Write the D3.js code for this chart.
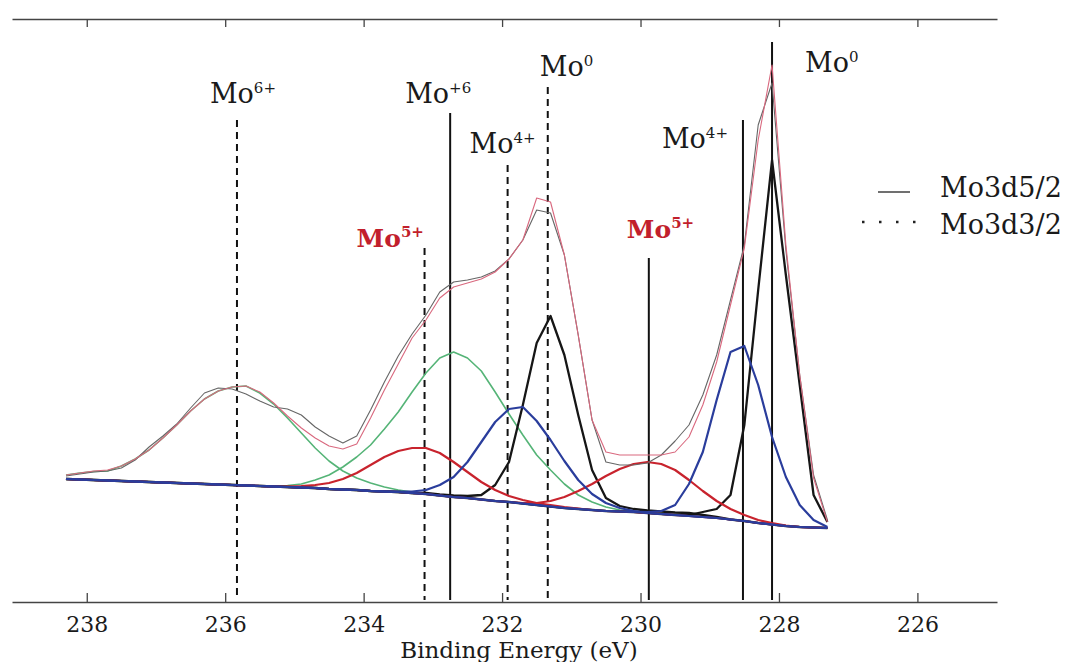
<!DOCTYPE html>
<html>
<head>
<meta charset="utf-8">
<script src="https://cdn.jsdelivr.net/npm/d3@7"></script>
<style>
  body { margin: 0; background: #fff; }
  svg text { font-family: "DejaVu Serif", serif; }
</style>
</head>
<body>
<svg id="chart" width="1071" height="662"></svg>
<script>
// binding energy grid (eV)
const energy = [238.3, 238.1, 237.9, 237.7, 237.5, 237.3, 237.1, 236.9, 236.7, 236.5,
  236.3, 236.1, 235.9, 235.7, 235.5, 235.3, 235.1, 234.9, 234.7, 234.5,
  234.3, 234.1, 233.9, 233.7, 233.5, 233.3, 233.1, 232.9, 232.7, 232.5,
  232.3, 232.1, 231.9, 231.7, 231.5, 231.3, 231.1, 230.9, 230.7, 230.5,
  230.3, 230.1, 229.9, 229.7, 229.5, 229.3, 229.1, 228.9, 228.7, 228.5,
  228.3, 228.1, 227.9, 227.7, 227.5, 227.3];

// measured spectrum and fitted envelope (a.u.)
const measured = [1.26, 1.28, 1.30, 1.31, 1.34, 1.42, 1.55, 1.66, 1.78, 1.94,
  2.09, 2.14, 2.13, 2.08, 2.01, 1.95, 1.93, 1.87, 1.75, 1.66,
  1.59, 1.66, 1.92, 2.20, 2.46, 2.68, 2.87, 3.10, 3.20, 3.22,
  3.25, 3.31, 3.43, 3.62, 3.92, 3.89, 3.47, 2.67, 1.82, 1.40,
  1.37, 1.37, 1.39, 1.47, 1.61, 1.77, 2.07, 2.47, 3.02, 3.57,
  4.77, 5.19, 3.52, 2.27, 1.27, 0.82];
const envelope = [1.27, 1.29, 1.31, 1.32, 1.36, 1.43, 1.52, 1.64, 1.77, 1.91,
  2.03, 2.11, 2.15, 2.16, 2.10, 1.99, 1.86, 1.74, 1.64, 1.56,
  1.53, 1.58, 1.84, 2.12, 2.38, 2.64, 2.82, 3.04, 3.15, 3.19,
  3.23, 3.30, 3.43, 3.62, 4.04, 4.00, 3.47, 2.67, 1.82, 1.50,
  1.47, 1.47, 1.47, 1.47, 1.50, 1.65, 1.97, 2.40, 2.97, 3.54,
  4.62, 5.37, 3.57, 2.27, 1.24, 0.80];

// background under the peaks
const background = [1.23, 1.225, 1.22, 1.215, 1.21, 1.205, 1.20, 1.195, 1.19, 1.185,
  1.18, 1.175, 1.17, 1.165, 1.16, 1.155, 1.15, 1.145, 1.14, 1.13,
  1.125, 1.12, 1.11, 1.105, 1.10, 1.09, 1.08, 1.065, 1.05, 1.04,
  1.025, 1.01, 1.00, 0.985, 0.97, 0.955, 0.94, 0.93, 0.92, 0.91,
  0.905, 0.90, 0.89, 0.88, 0.87, 0.86, 0.85, 0.84, 0.825, 0.81,
  0.79, 0.775, 0.76, 0.75, 0.745, 0.74];

// fitted components, height above background
const mo6_32 = [0.04, 0.065, 0.085, 0.095, 0.15, 0.225, 0.32, 0.445, 0.58, 0.725,
  0.85, 0.935, 0.98, 0.995, 0.93, 0.825, 0.69, 0.545, 0.40, 0.28,
  0.185, 0.12, 0.08, 0.045, 0.02, 0.01, 0.005, 0, 0, 0,
  0, 0, 0, 0, 0, 0, 0, 0, 0, 0, 0, 0, 0, 0, 0, 0, 0, 0, 0, 0, 0, 0, 0, 0, 0, 0];
const mo6_52 = [0, 0, 0, 0, 0, 0, 0, 0, 0, 0, 0, 0, 0, 0, 0,
  0.005, 0.015, 0.035, 0.08, 0.14, 0.225, 0.33, 0.46, 0.625, 0.80,
  1.01, 1.21, 1.375, 1.45, 1.40, 1.285, 1.09, 0.88, 0.685, 0.50,
  0.365, 0.24, 0.14, 0.08, 0.04, 0.015, 0.005, 0, 0, 0,
  0, 0, 0, 0, 0, 0, 0, 0, 0, 0, 0];
const mo5_32 = [0, 0, 0, 0, 0, 0, 0, 0, 0, 0, 0, 0, 0, 0, 0, 0,
  0.005, 0.015, 0.03, 0.06, 0.105, 0.17, 0.26, 0.345, 0.41, 0.45,
  0.46, 0.425, 0.35, 0.26, 0.175, 0.11, 0.06, 0.035, 0.02, 0.015,
  0.01, 0.005, 0, 0, 0, 0, 0, 0, 0, 0, 0, 0, 0, 0, 0, 0, 0, 0, 0, 0];
const mo5_52 = [0, 0, 0, 0, 0, 0, 0, 0, 0, 0, 0, 0, 0, 0, 0, 0, 0, 0, 0, 0,
  0, 0, 0, 0, 0, 0, 0, 0, 0, 0, 0, 0, 0,
  0.005, 0.02, 0.055, 0.11, 0.18, 0.26, 0.35, 0.425, 0.48, 0.51,
  0.50, 0.45, 0.36, 0.26, 0.17, 0.105, 0.06, 0.03, 0.015, 0.005, 0, 0, 0];
const mo4_32 = [0, 0, 0, 0, 0, 0, 0, 0, 0, 0, 0, 0, 0, 0, 0, 0, 0, 0, 0, 0,
  0, 0, 0, 0, 0.005, 0.015, 0.04, 0.105, 0.20, 0.36,
  0.575, 0.79, 0.93, 0.965, 0.84, 0.665, 0.47, 0.29, 0.16, 0.08,
  0.035, 0.01, 0, 0, 0, 0, 0, 0, 0, 0, 0, 0, 0, 0, 0, 0];
const mo4_52 = [0, 0, 0, 0, 0, 0, 0, 0, 0, 0, 0, 0, 0, 0, 0, 0, 0, 0, 0, 0,
  0, 0, 0, 0, 0, 0, 0, 0, 0, 0, 0, 0, 0, 0, 0, 0, 0, 0, 0, 0, 0,
  0.005, 0.01, 0.03, 0.10, 0.32, 0.65, 1.18, 1.675, 1.75,
  1.38, 0.875, 0.49, 0.22, 0.075, 0.01];
const mo0_32 = [0, 0, 0, 0, 0, 0, 0, 0, 0, 0, 0, 0, 0, 0, 0, 0, 0, 0, 0, 0,
  0, 0, 0, 0, 0, 0, 0.01, 0.01, 0.015, 0.02,
  0.045, 0.16, 0.40, 0.985, 1.62, 1.905, 1.53, 0.94, 0.40, 0.13,
  0.055, 0.03, 0.025, 0.025, 0.025, 0.03, 0.02, 0.01, 0, 0,
  0, 0, 0, 0, 0, 0];
const mo0_52 = [0, 0, 0, 0, 0, 0, 0, 0, 0, 0, 0, 0, 0, 0, 0, 0, 0, 0, 0, 0,
  0, 0, 0, 0, 0, 0, 0, 0, 0, 0, 0, 0, 0, 0, 0, 0, 0, 0, 0, 0,
  0, 0, 0, 0, 0, 0.01, 0.05, 0.09, 0.245, 0.96,
  2.33, 3.645, 2.51, 1.42, 0.325, 0.06];

const components = [
  { values: mo6_32, color: "#55b477", width: 1.6 },
  { values: mo6_52, color: "#55b477", width: 1.6 },
  { values: mo0_32, color: "#161616", width: 2.3 },
  { values: mo0_52, color: "#161616", width: 2.3 },
  { values: mo5_32, color: "#c8232d", width: 2.2 },
  { values: mo5_52, color: "#c8232d", width: 2.2 },
  { values: mo4_32, color: "#2a3d9c", width: 2.2 },
  { values: mo4_52, color: "#2a3d9c", width: 2.2 }
];

// peak position markers
const markEnergy = [235.83, 233.12, 232.75, 231.92, 231.34, 229.88, 228.52, 228.10];
const markHeight = [4.82, 3.54, 4.89, 4.37, 5.15, 3.44, 4.82, 5.60];
const markLevel  = ["3d3/2", "3d3/2", "3d5/2", "3d3/2", "3d3/2", "3d5/2", "3d5/2", "3d5/2"];
const markState  = ["6+", "5+", "+6", "4+", "0", "5+", "4+", "0"];
const markRed    = [false, true, false, false, false, true, false, false];
// label placement: offset from the marker and baseline
const markLabelDx = [-27, -68, -45, -38, -8, -22, -81, 33];
const markLabelY  = [103, 247, 103, 153, 76, 238, 148, 72];

const xTicks = [238, 236, 234, 232, 230, 228, 226];
const legendNames = ["Mo3d5/2", "Mo3d3/2"];

const svg = d3.select("#chart");
svg.append("rect").attr("width", 1071).attr("height", 662).attr("fill", "#fff");

const x = d3.scaleLinear().domain([239.08, 224.85]).range([12, 997]);
const y = d3.scaleLinear().domain([0, 5.83]).range([602, 19]);

// axes (bottom with labels, top mirror)
const bottom = svg.append("g").attr("transform", "translate(0,602)")
  .call(d3.axisBottom(x).tickValues(xTicks).tickSize(-9).tickSizeOuter(0).tickFormat(d3.format("d")));
bottom.attr("font-family", null);
bottom.selectAll("text")
  .attr("y", 30).attr("dy", 0)
  .style("font-size", "22px")
  .style("fill", "#1a1a1a");
svg.append("g").attr("transform", "translate(0,19)")
  .call(d3.axisTop(x).tickValues(xTicks).tickSize(-8).tickSizeOuter(0).tickFormat(""));
svg.selectAll(".domain, .tick line").attr("stroke", "#444").attr("stroke-width", 1.3);

svg.append("text").attr("x", 519).attr("y", 658)
  .attr("text-anchor", "middle").style("font-size", "23px").style("fill", "#1a1a1a")
  .text("Binding Energy (eV)");

// marker lines
const marks = markEnergy.map((e, i) => ({ e, h: markHeight[i], level: markLevel[i],
  state: markState[i], red: markRed[i], dx: markLabelDx[i], ly: markLabelY[i] }));

svg.append("g").selectAll("line").data(marks).join("line")
  .attr("x1", d => x(d.e)).attr("x2", d => x(d.e))
  .attr("y1", d => y(d.h)).attr("y2", 600)
  .attr("stroke", "#111").attr("stroke-width", 2)
  .attr("stroke-dasharray", d => d.level === "3d3/2" ? "7,5" : null);

// component curves
const line = d3.line().x((d, i) => x(energy[i])).y(d => y(d));
const g = svg.append("g").attr("fill", "none").attr("stroke-linejoin", "round");
components.forEach(c => {
  g.append("path")
    .datum(c.values.map((v, i) => background[i] + v))
    .attr("d", line)
    .attr("stroke", c.color).attr("stroke-width", c.width);
});
g.append("path").datum(background).attr("d", line)
  .attr("stroke", "#2a3d9c").attr("stroke-width", 2.2);
g.append("path").datum(measured).attr("d", line)
  .attr("stroke", "#666").attr("stroke-width", 1.1);
g.append("path").datum(envelope).attr("d", line)
  .attr("stroke", "#d9687e").attr("stroke-width", 1.1);

// state labels
const t = svg.append("g").selectAll("text").data(marks).join("text")
  .attr("x", d => x(d.e) + d.dx).attr("y", d => d.ly)
  .style("font-size", d => d.red ? "25px" : "27px")
  .style("font-weight", d => d.red ? "bold" : null)
  .style("fill", d => d.red ? "#c21f2c" : "#1a1a1a");
t.append("tspan").text("Mo");
t.append("tspan").attr("dy", -10).style("font-size", "15px").text(d => d.state);

// legend
const leg = svg.append("g");
leg.append("line").attr("x1", 878).attr("x2", 910).attr("y1", 192).attr("y2", 192)
  .attr("stroke", "#222").attr("stroke-width", 1.3);
leg.append("line").attr("x1", 862).attr("x2", 916).attr("y1", 222).attr("y2", 222)
  .attr("stroke", "#222").attr("stroke-width", 2.5).attr("stroke-dasharray", "2.5,14.5");
legendNames.forEach((n, i) => {
  leg.append("text").attr("x", 940).attr("y", 197 + i * 37)
    .style("font-size", "27px").style("fill", "#1a1a1a").text(n);
});
</script>
</body>
</html>
